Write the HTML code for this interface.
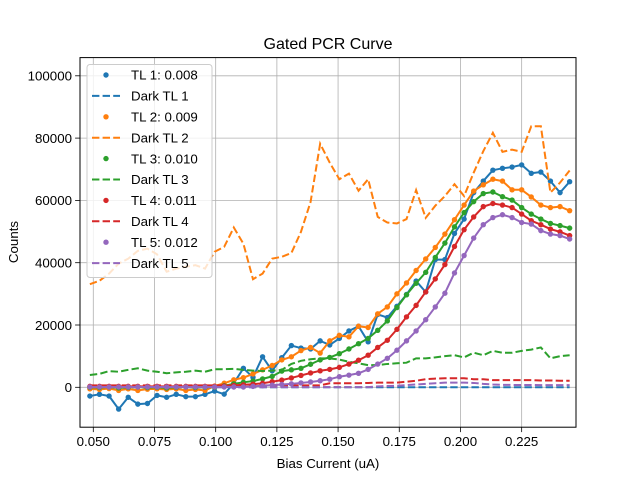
<!DOCTYPE html>
<html><head><meta charset="utf-8"><style>
html,body{margin:0;padding:0;background:#fff;}
svg{display:block;font-family:"Liberation Sans","DejaVu Sans",sans-serif;}
</style></head><body>
<svg id="chart" width="640" height="480" viewBox="0 0 640 480">
<rect width="640" height="480" fill="#fff"/>
<g id="grid"></g>
<g id="series"></g>
<rect x="80" y="57.6" width="496" height="369.6" fill="none" stroke="#000" stroke-width="1"/>
<g id="ticks"></g>
<text x="328" y="49" text-anchor="middle" font-size="16">Gated PCR Curve</text>
<text x="328" y="468" text-anchor="middle" font-size="13.3">Bias Current (uA)</text>
<text x="0" y="0" transform="translate(18,242) rotate(-90)" text-anchor="middle" font-size="13.3">Counts</text>
<g id="legend"></g>
</svg>
<script>
const xTicks = [0.050, 0.075, 0.100, 0.125, 0.150, 0.175, 0.200, 0.225];
const xTickLabels = ["0.050","0.075","0.100","0.125","0.150","0.175","0.200","0.225"];
const yTicks = [0, 20000, 40000, 60000, 80000, 100000];
const yTickLabels = ["0","20000","40000","60000","80000","100000"];
const xStart = 0.0486;
const xStep = 0.00392;
const tl1 = [-2800,-2250,-2800,-7000,-3200,-5400,-5200,-2600,-3200,-2250,-3000,-3000,-2250,-1200,-2200,1300,6100,3200,9800,5300,9500,13400,12600,12300,14900,13600,15700,18100,19600,14600,23400,22400,26000,29800,34100,30600,41000,41000,49400,54000,62500,66200,69700,70300,70700,71400,68700,69100,66200,62500,66000];
const dark1 = [0,0,0,0,0,0,0,0,0,0,0,0,0,0,0,0,0,0,0,0,0,0,0,0,0,0,0,0,0,0,0,0,0,0,0,0,0,0,0,0,0,0,0,0,0,0,0,0,0,0,0];
const tl2 = [-500,-700,-400,-1000,-500,-1000,-600,-500,-700,-500,-1000,-700,-1000,400,1300,2400,3100,4300,5600,7000,8800,9800,11800,12800,11000,14900,16700,16200,19600,19200,23600,25800,30000,33500,37500,41200,44900,49200,53800,58500,63000,65000,66800,66200,63400,63400,61100,58500,57700,58000,56700];
const dark2 = [33100,34200,36500,39700,41300,43800,44500,42700,37100,38100,38700,39200,38100,43500,45100,51300,46100,34700,36500,41300,41900,43100,49900,59500,78200,72100,66800,68600,63100,66800,54700,52900,52600,54000,63300,54400,58300,61400,65200,61400,68900,75800,81700,75600,76300,75600,83800,83800,62500,65700,69600];
const tl3 = [0,-100,100,-200,0,100,-100,0,-200,0,100,-100,0,0,500,1100,1600,2000,2700,3500,5200,5600,6100,7400,8800,9600,10800,12300,14000,15700,18300,21300,25600,29700,33400,36900,41700,46300,51500,56100,59600,62200,62700,61200,60100,57700,55600,54000,52600,51900,51100];
const dark3 = [3960,4300,5200,5000,5600,6100,5350,5000,4500,4800,5000,5350,5000,5800,5800,5900,5600,5350,5250,5350,5600,7500,8500,9000,9300,9300,8900,8200,7700,7100,7100,7500,7700,7900,9300,9300,9600,10000,10300,9600,11100,10300,11700,11100,11100,11700,12100,12800,9300,10000,10300];
const tl4 = [300,300,300,300,300,300,300,300,300,300,300,300,300,300,400,600,800,1000,1300,1800,2300,3000,3800,4600,5300,5750,6400,7450,8700,10300,12800,15100,18600,22600,26300,30600,34800,39400,45200,50600,54700,58000,59000,58500,57700,55600,53500,52200,50800,49900,48700];
const dark4 = [600,600,600,600,600,600,600,600,600,600,600,600,600,600,600,600,600,600,600,600,600,600,600,600,600,1300,1300,1300,1300,1400,1500,1500,1500,1800,2100,2600,2800,2900,2900,2900,2600,2600,2300,2300,2300,2300,2300,2200,2200,2100,2100];
const tl5 = [100,100,100,100,100,100,100,100,100,100,100,100,100,100,100,100,100,300,500,700,900,1100,1400,1700,2100,2600,3400,3900,4500,5750,7450,9300,11900,14900,18100,21700,25800,30200,36700,42300,47900,52200,54500,55400,54500,52900,52400,50300,49200,48700,47600];
const dark5 = [50,50,50,50,50,50,50,50,50,50,50,50,50,50,50,50,50,50,50,50,50,50,50,50,50,50,50,50,50,50,300,400,500,700,900,1100,1300,1500,1500,1500,1400,1100,900,800,750,750,750,700,700,700,700];
const labels = ["TL 1: 0.008","Dark TL 1","TL 2: 0.009","Dark TL 2","TL 3: 0.010","Dark TL 3","TL 4: 0.011","Dark TL 4","TL 5: 0.012","Dark TL 5"];

const NS = "http://www.w3.org/2000/svg";
const L=80,R=576,T=57.6,B=427.2;
const xMin=0.04457,xMax=0.2472,yMin=-12809,yMax=105843;
function sx(v){return L+(v-xMin)/(xMax-xMin)*(R-L);}
function sy(v){return B-(v-yMin)/(yMax-yMin)*(B-T);}
function mk(tag,attrs,parent){const e=document.createElementNS(NS,tag);for(const k in attrs)e.setAttribute(k,attrs[k]);parent.appendChild(e);return e;}
const grid=document.getElementById('grid'),ticks=document.getElementById('ticks'),ser=document.getElementById('series'),leg=document.getElementById('legend');
xTicks.forEach((t,i)=>{const x=sx(t);
 const g=mk('line',{x1:x,x2:x,y1:T,y2:B,stroke:'#b0b0b0','stroke-width':0.8},grid);
 
 
 const tk=mk('line',{x1:x,x2:x,y1:B,y2:B+4.9,stroke:'#000','stroke-width':0.8},ticks);
 
 
 const tx=mk('text',{x:x,y:B+19,'text-anchor':'middle','font-size':13.3},ticks);tx.textContent=xTickLabels[i];
 
 
});
yTicks.forEach((t,i)=>{const y=sy(t);
 const g=mk('line',{x1:L,x2:R,y1:y,y2:y,stroke:'#b0b0b0','stroke-width':0.8},grid);
 
 
 const tk=mk('line',{x1:L-4.9,x2:L,y1:y,y2:y,stroke:'#000','stroke-width':0.8},ticks);
 
 
 const tx=mk('text',{x:L-8,y:y+4.8,'text-anchor':'end','font-size':13.3},ticks);tx.textContent=yTickLabels[i];
 
 
});
const colors=['#1f77b4','#ff7f0e','#2ca02c','#d62728','#9467bd'];
const tls=[tl1,tl2,tl3,tl4,tl5],darks=[dark1,dark2,dark3,dark4,dark5];
function pts(arr){return arr.map((v,i)=>sx(xStart+i*xStep).toFixed(2)+','+sy(v).toFixed(2)).join(' ');}
for(let s=0;s<5;s++){
 const c=colors[s];
 const gl=mk('g',{},ser);
 
 
 const line=mk('polyline',{points:pts(tls[s]),fill:'none',stroke:c,'stroke-width':2,'stroke-linejoin':'round'},gl);
 
 
 tls[s].forEach((v,i)=>{const p=mk('circle',{cx:sx(xStart+i*xStep),cy:sy(v),r:2.7,fill:c},gl);
  
  });
 const dl=mk('polyline',{points:pts(darks[s]),fill:'none',stroke:c,'stroke-width':2,'stroke-dasharray':'7.4,3.2'},ser);
 
 
}
const lb=mk('rect',{x:87,y:64.5,width:125,height:213,rx:3,fill:'#fff','fill-opacity':0.8,stroke:'#cccccc','stroke-width':1},leg);


labels.forEach((t,i)=>{const y=75+i*20.9;const c=colors[Math.floor(i/2)];
 const ge=mk('g',{},leg);
 
 
 if(i%2===0){mk('circle',{cx:106,cy:y,r:2.7,fill:c},ge);}
 else{mk('line',{x1:92,x2:120,y1:y,y2:y,stroke:c,'stroke-width':2,'stroke-dasharray':'7.4,3.2'},ge);}
 const tx=mk('text',{x:131,y:y+4.7,'font-size':13.3},ge);tx.textContent=t;
});
</script>
</body></html>
